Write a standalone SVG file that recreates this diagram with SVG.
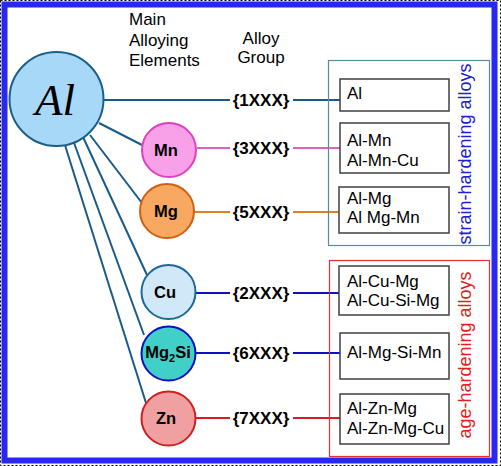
<svg xmlns="http://www.w3.org/2000/svg" width="501" height="466" viewBox="0 0 501 466">
<style>
.t{font-family:"Liberation Sans",Arial,sans-serif;font-size:17px;fill:#000}
.b{font-family:"Liberation Sans",Arial,sans-serif;font-size:16.5px;font-weight:bold;fill:#000;text-anchor:middle}
.g{font-family:"Liberation Sans",Arial,sans-serif;font-size:17px;font-weight:bold;fill:#000;text-anchor:middle}
.bx{fill:#fff;stroke:#404040;stroke-width:1.5}
.s{fill:none;stroke-width:2}
</style>
<rect x="0.5" y="0.5" width="500" height="465" fill="#fff" stroke="#000" stroke-dasharray="2 2"/>
<rect x="4.5" y="4.5" width="490" height="456" fill="#fff" stroke="#2828f0" stroke-width="6"/>
<g id="headers">
<text class="t" x="129" y="25">Main</text>
<text class="t" x="129" y="46">Alloying</text>
<text class="t" x="129" y="66">Elements</text>
<text class="t" x="261" y="44" text-anchor="middle">Alloy</text>
<text class="t" x="261" y="63" text-anchor="middle">Group</text>
</g>
<g id="connectors">
<line class="s" x1="104" y1="100" x2="230" y2="100" stroke="#1a5a8a"/>
<line class="s" x1="99" y1="123" x2="142" y2="145" stroke="#1a5a8a"/>
<line class="s" x1="90" y1="135" x2="142" y2="203" stroke="#1a5a8a"/>
<line class="s" x1="83" y1="137" x2="147" y2="275" stroke="#1a5a8a"/>
<line class="s" x1="73" y1="140" x2="144" y2="335" stroke="#1a5a8a"/>
<line class="s" x1="64" y1="142" x2="146" y2="403" stroke="#1a5a8a"/>
<line class="s" x1="197" y1="148" x2="230" y2="148" stroke="#e060c0"/>
<line class="s" x1="195" y1="212" x2="230" y2="212" stroke="#e08020"/>
<line class="s" x1="196" y1="293" x2="230" y2="293" stroke="#1010c0"/>
<line class="s" x1="196" y1="353" x2="230" y2="353" stroke="#1010c0"/>
<line class="s" x1="196" y1="418" x2="230" y2="418" stroke="#d02020"/>
<line class="s" x1="293" y1="100" x2="340" y2="100" stroke="#1a5a8a"/>
<line class="s" x1="293" y1="148" x2="340" y2="148" stroke="#e060c0"/>
<line class="s" x1="293" y1="212" x2="340" y2="212" stroke="#e08020"/>
<line class="s" x1="293" y1="293" x2="340" y2="293" stroke="#1010c0"/>
<line class="s" x1="293" y1="353" x2="340" y2="353" stroke="#1010c0"/>
<line class="s" x1="293" y1="418" x2="340" y2="418" stroke="#d02020"/>
</g>
<g id="node-al">
<circle cx="56.5" cy="99" r="47" fill="#a8d8f8" stroke="#1a5f8a" stroke-width="2"/>
<text x="55" y="115" font-family="'Liberation Serif','Times New Roman',serif" font-style="italic" font-size="45" text-anchor="middle">Al</text>
</g>
<g id="node-mn">
<circle cx="169" cy="150" r="27" fill="#f8a0e8" stroke="#e040c0" stroke-width="2"/>
<text class="b" x="166" y="156">Mn</text>
</g>
<g id="node-mg">
<circle cx="167" cy="211" r="27" fill="#f8a860" stroke="#d06010" stroke-width="2"/>
<text class="b" x="166" y="217">Mg</text>
</g>
<g id="node-cu">
<circle cx="168.5" cy="292" r="27" fill="#d0e8f8" stroke="#1a6a9a" stroke-width="2"/>
<text class="b" x="165" y="298">Cu</text>
</g>
<g id="node-mg2si">
<circle cx="168.5" cy="353.5" r="27" fill="#40d0c8" stroke="#1010c0" stroke-width="2"/>
<text class="b" x="168" y="358">Mg<tspan font-size="11" dy="4">2</tspan><tspan dy="-4">Si</tspan></text>
</g>
<g id="node-zn">
<circle cx="168.5" cy="418.5" r="27" fill="#f0a0a0" stroke="#d02020" stroke-width="2"/>
<text class="b" x="166" y="424">Zn</text>
</g>
<g id="groups">
<text class="g" x="261" y="106">{1XXX}</text>
<text class="g" x="261" y="154">{3XXX}</text>
<text class="g" x="261" y="218">{5XXX}</text>
<text class="g" x="261" y="299">{2XXX}</text>
<text class="g" x="261" y="359">{6XXX}</text>
<text class="g" x="261" y="424">{7XXX}</text>
</g>
<g id="strain-hardening">
<rect x="328.5" y="60.5" width="161" height="185" fill="none" stroke="#5a8aa0" stroke-width="1.2"/>
<text transform="translate(471,154) rotate(-90)" text-anchor="middle" font-family="'Liberation Sans',Arial,sans-serif" font-size="18" fill="#2020d0">strain-hardening alloys</text>
</g>
<g id="age-hardening">
<rect x="329.5" y="260.5" width="160" height="196" fill="none" stroke="#e03030" stroke-width="1.2"/>
<text transform="translate(471,355) rotate(-90)" text-anchor="middle" font-family="'Liberation Sans',Arial,sans-serif" font-size="18" fill="#e02020">age-hardening alloys</text>
</g>
<g id="box-1xxx">
<rect class="bx" x="340" y="79" width="109" height="32"/>
<text class="t" x="347" y="99">Al</text>
</g>
<g id="box-3xxx">
<rect class="bx" x="340" y="123" width="109" height="50"/>
<text class="t" x="347" y="146">Al-Mn</text>
<text class="t" x="347" y="166">Al-Mn-Cu</text>
</g>
<g id="box-5xxx">
<rect class="bx" x="339" y="187" width="110" height="46"/>
<text class="t" x="347" y="204">Al-Mg</text>
<text class="t" x="347" y="223">Al Mg-Mn</text>
</g>
<g id="box-2xxx">
<rect class="bx" x="339" y="266" width="110" height="49"/>
<text class="t" x="347" y="287">Al-Cu-Mg</text>
<text class="t" x="347" y="306">Al-Cu-Si-Mg</text>
</g>
<g id="box-6xxx">
<rect class="bx" x="340" y="333" width="109" height="46"/>
<text class="t" x="347" y="358">Al-Mg-Si-Mn</text>
</g>
<g id="box-7xxx">
<rect class="bx" x="340" y="394" width="109" height="50"/>
<text class="t" x="347" y="414">Al-Zn-Mg</text>
<text class="t" x="347" y="434">Al-Zn-Mg-Cu</text>
</g>
</svg>
